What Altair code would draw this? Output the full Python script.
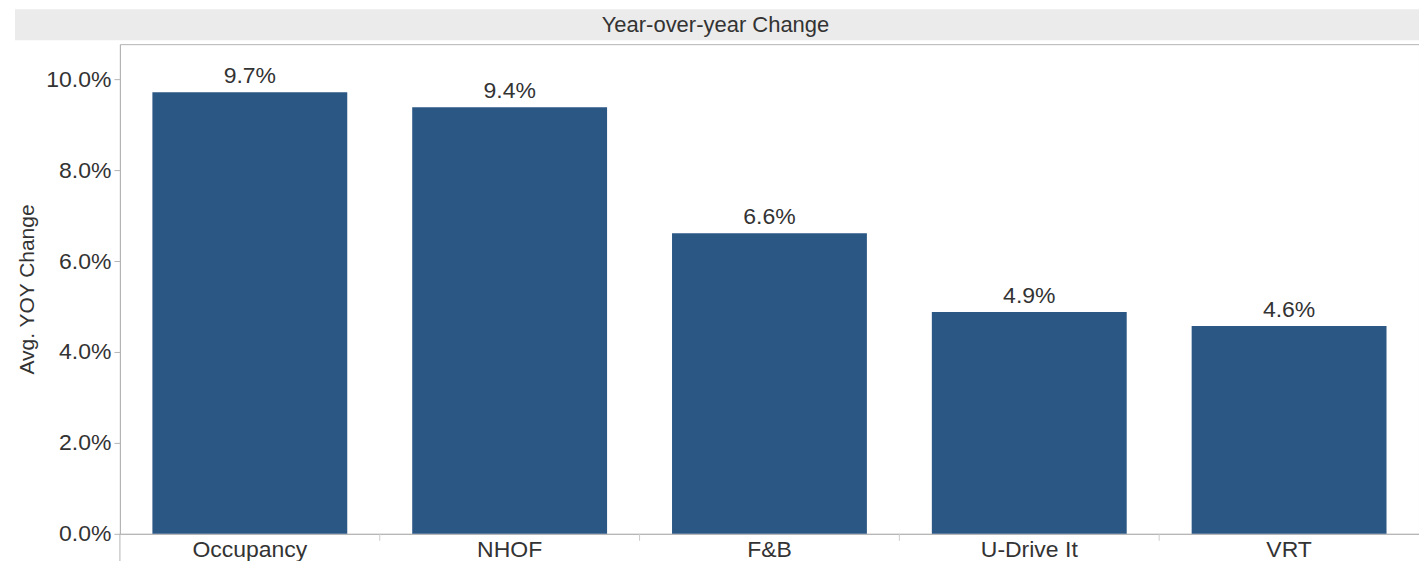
import altair as alt
import pandas as pd

categories = ["Occupancy", "NHOF", "F&B", "U-Drive It", "VRT"]
values = [0.0971, 0.0938, 0.0661, 0.0488, 0.0457]
y_ticks = [0.0, 0.02, 0.04, 0.06, 0.08, 0.10]
title_text = "Year-over-year Change"

df = pd.DataFrame({"category": categories, "value": values})
bounds = pd.DataFrame({"category": categories[1:]})

FONT = "Liberation Sans"
BAR = "#2b5784"
TXT = "#333333"
AX = "#b5b5b5"

xscale = alt.Scale(paddingInner=0.25, paddingOuter=0.125, domain=categories)
x = alt.X(
    "category:N",
    sort=categories,
    scale=xscale,
    axis=alt.Axis(
        title=None, labelAngle=0, labelFontSize=23, labelFont=FONT, labelColor=TXT,
        labelPadding=5, ticks=False, domainColor=AX, labelOverlap=False,
    ),
)
y = alt.Y(
    "value:Q",
    scale=alt.Scale(domain=[0, 0.1077], nice=False),
    axis=alt.Axis(
        title="Avg. YOY Change", format=".1%", values=y_ticks, grid=False,
        labelFontSize=23, labelFont=FONT, labelColor=TXT, tickSize=6,
        tickColor=AX, domainColor=AX, labelPadding=3,
        titleFont=FONT, titleFontSize=21, titleFontWeight="normal", titleColor=TXT,
        titlePadding=8,
    ),
)

bars = alt.Chart(df).mark_bar(color=BAR).encode(x=x, y=y)
labels = alt.Chart(df).mark_text(
    dy=-16, fontSize=23, font=FONT, color=TXT
).encode(x=x, y=y, text=alt.Text("value:Q", format=".1%"))

sep_ticks = alt.Chart(bounds).mark_rule(color="#cccccc", xOffset=-32.5).encode(
    x=alt.X("category:N", bandPosition=0, sort=categories, scale=xscale),
    y=alt.value(490), y2=alt.value(497),
)

band = alt.Chart(pd.DataFrame({"t": [title_text]})).mark_rect(color="#ebebeb").encode(
    x=alt.value(-105), x2=alt.value(1300), y=alt.value(-35), y2=alt.value(-4)
)
band_text = alt.Chart(pd.DataFrame({"t": [title_text]})).mark_text(
    fontSize=22, font=FONT, color=TXT
).encode(x=alt.value(596), y=alt.value(-19), text="t:N")

left_ext = alt.Chart(pd.DataFrame({"t": [0]})).mark_rule(color=AX).encode(
    x=alt.value(0), y=alt.value(490), y2=alt.value(535)
)

chart = alt.layer(band, band_text, left_ext, bars, labels, sep_ticks).properties(
    width=1300, height=490,
    autosize=alt.AutoSizeParams(type="none"),
    padding={"left": 112, "top": 36, "right": 0, "bottom": 27},
).configure_view(stroke=AX)

chart.save("out.html", embed_options={"renderer": "svg", "actions": False})
